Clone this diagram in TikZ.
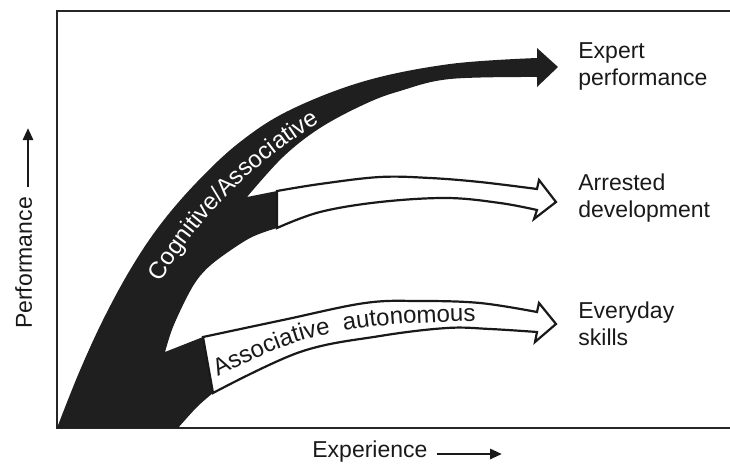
\documentclass[tikz,border=0pt]{standalone}
\usepackage{fontspec}
\setmainfont{Liberation Sans}
\usepackage{xcolor}
\usepackage{tikz}
\usetikzlibrary{arrows.meta,decorations.text}

\begin{document}
\begin{tikzpicture}[
        x=0.5pt, y=-0.5pt,
        frame/.style={line width=1pt, black!85},
        band/.style={fill=black!88},
        branch/.style={draw=black!90, fill=white, line width=1.1pt, line join=miter},
        outcome/.style={align=left, anchor=base west, inner sep=0pt, font=\fontsize{11.5}{13.5}\selectfont, text=black!90},
        axislabel/.style={inner sep=0pt, font=\fontsize{11.5}{13.5}\selectfont, text=black!90},
        axisarrow/.style={-{Triangle[length=6pt, width=5pt]}, line width=1.4pt, black!90}
    ]
        \useasboundingbox (0,0) rectangle (730,467);

        % frame of the plot
        \draw[frame] (730,11) -- (57,11) -- (57,428) -- (730,428);

        % black band with its two branch stubs
        \fill[band] (57,428)
            -- plot[smooth, tension=0.6] coordinates {(57,428) (78,375) (102,322) (130,270) (160,225) (197,182) (240,142) (290,110) (365,81) (450,64) (537,58)}
            -- (537,48) -- (558,67) -- (537,87) -- (537,77)
            -- plot[smooth, tension=0.6] coordinates {(537,77) (450,79) (400,91) (365,104) (320,128) (283,157) (247,197)}
            -- (277,191) -- (277,228)
            -- plot[smooth, tension=0.55] coordinates {(277,228) (250,238) (217,260) (200,276) (188,295) (173,327) (165,352)}
            -- (203,337) -- (213,393)
            -- plot[smooth, tension=0.55] coordinates {(213,393) (197,407) (178,428)}
            -- cycle;

        % white arrows
        \draw[branch] plot[smooth, tension=0.6] coordinates {(277,191) (320,184) (380,177) (430,178) (480,182) (537,189)}
            -- (539,180) -- (556,202) -- (534,219) -- (537,210)
            -- plot[smooth, tension=0.6] coordinates {(537,210) (500,203) (447,198) (380,202) (320,212) (277,228)}
            -- cycle;
        \draw[branch] plot[smooth, tension=0.6] coordinates {(203,337) (283,320) (365,303) (420,301) (480,303) (537,312)}
            -- (539,303) -- (556,324) -- (535,342) -- (537,332)
            -- plot[smooth, tension=0.6] coordinates {(537,332) (490,329) (447,328) (380,336) (300,352) (213,393)}
            -- cycle;

        % labels along the arrows
        \path[decorate, decoration={text along path, text align=center,
            text={|\fontsize{12}{14}\selectfont\color{white}|Cognitive/Associative}}]
            (152,297) .. controls (190,229) and (245,164) .. (335,114);
        \path[decorate, decoration={text along path, text align=left,
            text={|\fontsize{12}{14}\selectfont\color{black!90}|Associative{ }{ }autonomous}}]
            (218,377) .. controls (290,340) and (330,322) .. (490,321);

        % outcomes
        \node[outcome] (expert) at (578,85) {Expert\\performance};
        \node[outcome] (arrested) at (578,217) {Arrested\\development};
        \node[outcome] (everyday) at (578,345) {Everyday\\skills};

        % axes
        \node[axislabel, rotate=90, anchor=base] (performance) at (32,263) {Performance};
        \coordinate (perftail) at (28,187);
        \coordinate (perfhead) at (28,128);
        \draw[axisarrow] (perftail) -- (perfhead);

        \node[axislabel, anchor=base west] (experience) at (312,457) {Experience};
        \coordinate (exptail) at (437,454);
        \coordinate (exphead) at (502,454);
        \draw[axisarrow] (exptail) -- (exphead);
    \end{tikzpicture}
\end{document}
